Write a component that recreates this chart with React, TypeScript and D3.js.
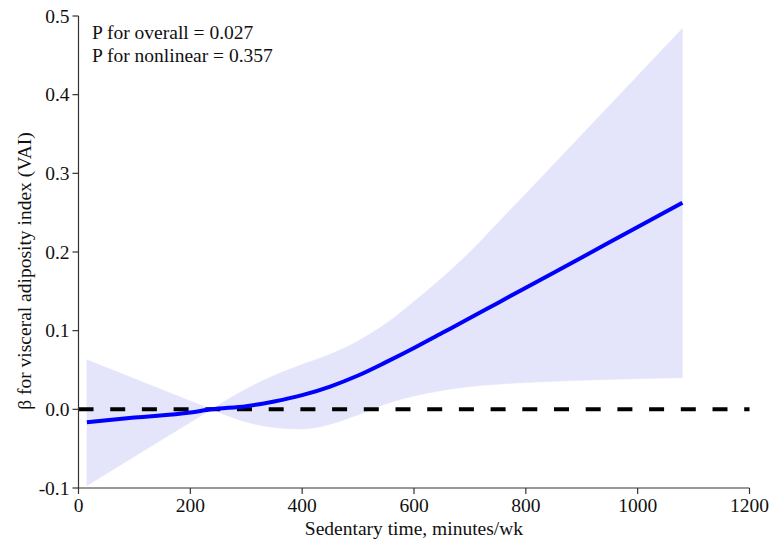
import React from 'react';
import * as d3 from 'd3';

// sedentary time grid (minutes/wk) and fitted curve with 95% CI
const xs = [15, 100, 200, 238, 300, 350, 400, 450, 500, 550, 600, 650, 700, 750, 800, 900, 1000, 1080];
const beta = [-0.0165, -0.0105, -0.004, 0.0, 0.004, 0.010, 0.018, 0.029, 0.043, 0.060, 0.078, 0.097, 0.116, 0.1353, 0.1546, 0.1931, 0.2317, 0.2625];
const upper = [0.063, 0.039, 0.0107, 0.0, 0.026, 0.043, 0.057, 0.070, 0.087, 0.109, 0.137, 0.167, 0.200, 0.237, 0.274, 0.349, 0.424, 0.484];
const lower = [-0.097, -0.060, -0.0165, 0.0, -0.016, -0.023, -0.025, -0.019, -0.007, 0.007, 0.017, 0.024, 0.029, 0.032, 0.034, 0.037, 0.039, 0.040];

const xTicks = [0, 200, 400, 600, 800, 1000, 1200];
const yTicks = [-0.1, 0.0, 0.1, 0.2, 0.3, 0.4, 0.5];
const yTickLabels = ['-0.1', '0.0', '0.1', '0.2', '0.3', '0.4', '0.5'];
const pTexts = ['P for overall = 0.027', 'P for nonlinear = 0.357'];

const width = 771;
const height = 539;
const font = '"Liberation Serif", "Times New Roman", serif';
const fs = 19.5;

const App = () => {
  const x = d3.scaleLinear().domain([0, 1200]).range([78.5, 749.5]);
  const y = d3.scaleLinear().domain([-0.1, 0.5]).range([488, 16]);

  const rows = xs.map((v, i) => ({ x: v, b: beta[i], lo: lower[i], hi: upper[i] }));
  const pinch = xs.indexOf(238);
  // two pieces so the band keeps its crossing point sharp
  const parts = [rows.slice(0, pinch + 1), rows.slice(pinch)];

  const area = d3.area<any>()
    .x(d => x(d.x))
    .y0(d => y(d.lo))
    .y1(d => y(d.hi))
    .curve(d3.curveMonotoneX);

  const line = d3.line<any>()
    .x(d => x(d.x))
    .y(d => y(d.b))
    .curve(d3.curveMonotoneX);

  const x0 = x.range()[0];
  const yb = y.range()[0];

  return (
    <svg width={width} height={height} style={{ position: 'absolute', left: 0, top: 0 }} fontFamily={font}>
      <rect width={width} height={height} fill="#fff" />
      {parts.map((p, i) => (
        <path key={i} d={area(p) || ''} fill="#e4e4fb" stroke="#e4e4fb" strokeWidth={0.5} />
      ))}
      <line x1={x(0)} x2={x(1200)} y1={y(0)} y2={y(0)} stroke="#000" strokeWidth={4} strokeDasharray="15,16.7" />
      <path d={line(rows) || ''} fill="none" stroke="#0000ff" strokeWidth={4} />

      {/* y axis */}
      <line x1={x0} x2={x0} y1={y(0.5)} y2={yb} stroke="#333" strokeWidth={1.2} />
      {yTicks.map((t, i) => (
        <g key={t} transform={`translate(${x0},${y(t)})`}>
          <line x1={-6} x2={0} stroke="#333" strokeWidth={1.2} />
          <text x={-9} dy="0.34em" textAnchor="end" fontSize={fs} fill="#111">{yTickLabels[i]}</text>
        </g>
      ))}

      {/* x axis */}
      <line x1={x0} x2={x(1200)} y1={yb} y2={yb} stroke="#333" strokeWidth={1.2} />
      {xTicks.map(t => (
        <g key={t} transform={`translate(${x(t)},${yb})`}>
          <line y1={0} y2={6} stroke="#333" strokeWidth={1.2} />
          <text y={24} textAnchor="middle" fontSize={fs} fill="#111">{t}</text>
        </g>
      ))}

      <text x={(x(0) + x(1200)) / 2} y={535} textAnchor="middle" fontSize={fs} fill="#111">
        Sedentary time, minutes/wk
      </text>
      <text transform={`translate(31,${271}) rotate(-90)`} textAnchor="middle" fontSize={fs} fill="#111">
        β for visceral adiposity index (VAI)
      </text>

      {pTexts.map((s, i) => (
        <text key={s} x={92} y={39 + i * 23} fontSize={fs} fill="#111">{s}</text>
      ))}
    </svg>
  );
};

export default App;
